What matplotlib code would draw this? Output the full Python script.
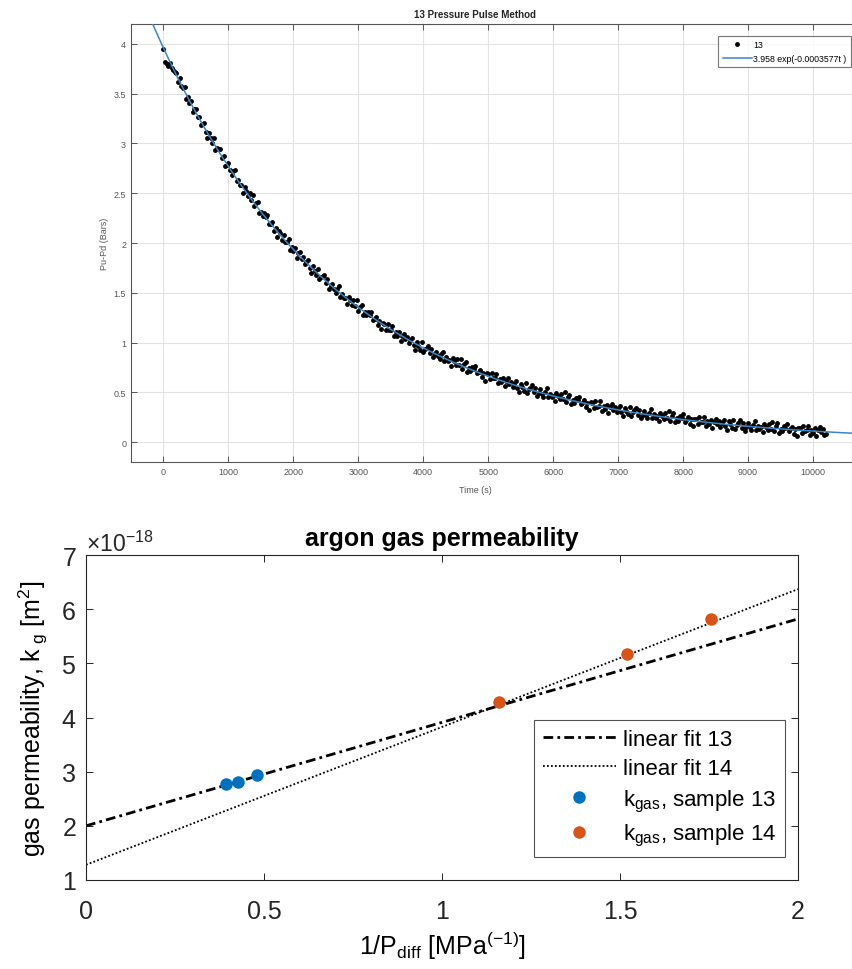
import numpy as np
import matplotlib
matplotlib.use("Agg")
import matplotlib.pyplot as plt
from matplotlib.ticker import ScalarFormatter

plt.rcParams["mathtext.fontset"] = "custom"
plt.rcParams["mathtext.rm"] = "Liberation Sans"
plt.rcParams["mathtext.it"] = "Liberation Sans"
plt.rcParams["mathtext.bf"] = "Liberation Sans:bold"
plt.rcParams["axes.unicode_minus"] = False

# ---------------- pressure pulse record, sample 13 ----------------
time_step_s = 25
pulse_dp_bar = [
    3.95, 3.82, 3.80, 3.78, 3.81, 3.76, 3.74, 3.72,
    3.71, 3.62, 3.66, 3.58, 3.56, 3.57, 3.45, 3.47,
    3.41, 3.43, 3.32, 3.35, 3.35, 3.27, 3.27, 3.19,
    3.20, 3.21, 3.12, 3.05, 3.11, 3.05, 3.00, 3.05,
    2.93, 2.95, 2.94, 2.94, 2.85, 2.87, 2.77, 2.78,
    2.80, 2.73, 2.68, 2.72, 2.73, 2.62, 2.63, 2.58,
    2.58, 2.50, 2.56, 2.52, 2.47, 2.50, 2.43, 2.48,
    2.37, 2.40, 2.41, 2.30, 2.31, 2.27, 2.30, 2.26,
    2.28, 2.19, 2.19, 2.21, 2.12, 2.15, 2.06, 2.12,
    2.10, 2.03, 2.08, 2.01, 2.01, 2.04, 1.93, 1.96,
    1.92, 1.95, 1.85, 1.90, 1.91, 1.84, 1.86, 1.79,
    1.81, 1.83, 1.75, 1.70, 1.77, 1.72, 1.68, 1.74,
    1.64, 1.66, 1.67, 1.68, 1.60, 1.64, 1.54, 1.57,
    1.59, 1.54, 1.50, 1.54, 1.57, 1.46, 1.49, 1.45,
    1.45, 1.39, 1.46, 1.43, 1.38, 1.43, 1.37, 1.43,
    1.32, 1.36, 1.38, 1.28, 1.31, 1.28, 1.31, 1.28,
    1.31, 1.23, 1.24, 1.26, 1.18, 1.22, 1.14, 1.20,
    1.19, 1.13, 1.19, 1.13, 1.13, 1.17, 1.07, 1.11,
    1.07, 1.11, 1.02, 1.07, 1.09, 1.04, 1.06, 1.00,
    1.03, 1.05, 0.98, 0.93, 1.01, 0.97, 0.93, 1.01,
    0.91, 0.94, 0.95, 0.97, 0.89, 0.94, 0.85, 0.88,
    0.91, 0.86, 0.83, 0.88, 0.91, 0.81, 0.85, 0.81,
    0.82, 0.76, 0.84, 0.81, 0.77, 0.83, 0.77, 0.83,
    0.73, 0.78, 0.80, 0.70, 0.74, 0.71, 0.75, 0.73,
    0.76, 0.69, 0.70, 0.72, 0.65, 0.69, 0.61, 0.69,
    0.68, 0.63, 0.69, 0.64, 0.64, 0.68, 0.59, 0.63,
    0.60, 0.64, 0.56, 0.61, 0.64, 0.58, 0.60, 0.55,
    0.58, 0.61, 0.54, 0.50, 0.58, 0.55, 0.51, 0.59,
    0.49, 0.53, 0.54, 0.57, 0.50, 0.54, 0.46, 0.49,
    0.53, 0.48, 0.45, 0.50, 0.54, 0.45, 0.48, 0.45,
    0.46, 0.41, 0.49, 0.46, 0.43, 0.48, 0.43, 0.50,
    0.40, 0.45, 0.47, 0.38, 0.42, 0.39, 0.44, 0.42,
    0.45, 0.38, 0.39, 0.42, 0.35, 0.39, 0.32, 0.40,
    0.39, 0.34, 0.41, 0.35, 0.36, 0.41, 0.31, 0.36,
    0.33, 0.37, 0.29, 0.35, 0.38, 0.32, 0.35, 0.30,
    0.33, 0.36, 0.30, 0.26, 0.34, 0.31, 0.28, 0.35,
    0.26, 0.30, 0.32, 0.34, 0.27, 0.32, 0.24, 0.27,
    0.31, 0.27, 0.24, 0.29, 0.33, 0.24, 0.28, 0.24,
    0.26, 0.21, 0.29, 0.26, 0.23, 0.29, 0.24, 0.31,
    0.21, 0.26, 0.29, 0.20, 0.24, 0.21, 0.26, 0.24,
    0.28, 0.20, 0.22, 0.25, 0.18, 0.23, 0.16, 0.23,
    0.23, 0.18, 0.25, 0.20, 0.20, 0.25, 0.16, 0.21,
    0.18, 0.22, 0.14, 0.20, 0.23, 0.18, 0.21, 0.15,
    0.19, 0.22, 0.16, 0.12, 0.21, 0.18, 0.14, 0.22,
    0.13, 0.17, 0.19, 0.22, 0.14, 0.19, 0.11, 0.15,
    0.19, 0.15, 0.12, 0.17, 0.21, 0.12, 0.16, 0.13,
    0.15, 0.10, 0.18, 0.15, 0.12, 0.18, 0.13, 0.20,
    0.11, 0.16, 0.19, 0.09, 0.13, 0.11, 0.16, 0.14,
    0.18, 0.11, 0.13, 0.15, 0.08, 0.13, 0.06, 0.14,
    0.14, 0.09, 0.16, 0.11, 0.12, 0.16, 0.07, 0.12,
    0.09, 0.14, 0.06, 0.12, 0.15, 0.10, 0.13, 0.07,
    0.08,
]
pulse_time_s = np.arange(len(pulse_dp_bar)) * time_step_s

# exponential fit reported in the legend
fit_amp = 3.958
fit_rate = 0.0003577
fit_label = "3.958 exp(-0.0003577t )"

# ---------------- argon permeability vs. inverse pressure ----------------
inv_p_13 = [0.393, 0.427, 0.480]
kgas_13 = [2.77e-18, 2.81e-18, 2.94e-18]
inv_p_14 = [1.160, 1.520, 1.755]
kgas_14 = [4.28e-18, 5.17e-18, 5.82e-18]
# linear fits (slope, intercept) in m^2 per MPa^-1
fit13 = (1.91e-18, 2.00e-18)
fit14 = (2.545e-18, 1.28e-18)

W, H = 852, 970
fig = plt.figure(figsize=(W / 100, H / 100), dpi=100)

narrow = ["Liberation Sans Narrow", "Liberation Sans", "DejaVu Sans"]
sans = ["Liberation Sans", "DejaVu Sans"]

# ---------- top panel ----------
x0, x1 = -500, 11000
left_px, right_px, top_px, bot_px = 131, 878, 25, 463
ax1 = fig.add_axes([left_px / W, 1 - bot_px / H,
                    (right_px - left_px) / W, (bot_px - top_px) / H])
ax1.plot(pulse_time_s, pulse_dp_bar, "o", color="black", markersize=3.5,
         markeredgewidth=0, label="13", zorder=3)
tt = np.linspace(x0, x1, 400)
ax1.plot(tt, fit_amp * np.exp(-fit_rate * tt), color="#3a86c6", lw=1.1,
         label=fit_label, zorder=4)
ax1.set_xlim(x0, x1)
ax1.set_ylim(-0.2, 4.2)
ax1.set_xticks(np.arange(0, 10001, 1000))
ax1.set_yticks(np.arange(0, 4.01, 0.5))
ax1.set_yticklabels(["0", "0.5", "1", "1.5", "2", "2.5", "3", "3.5", "4"])
ax1.grid(True, color="#e3e3e3", lw=0.8)
ax1.set_axisbelow(True)
ax1.tick_params(direction="in", top=True, right=True, length=4, width=0.7,
                colors="#555555", labelsize=6.5, labelcolor="#555555")
for lab in ax1.get_xticklabels() + ax1.get_yticklabels():
    lab.set_family(narrow)
for s in ax1.spines.values():
    s.set_color("#555555")
    s.set_linewidth(0.8)
title_x = (475 - left_px) / (right_px - left_px)
ax1.set_title("13 Pressure Pulse Method", fontsize=7, fontweight="bold",
              family=narrow, x=title_x, pad=5, color="#222222")
ax1.set_xlabel("Time (s)", fontsize=6.5, family=narrow, color="#555555",
               labelpad=4)
ax1.xaxis.set_label_coords(title_x, -0.052)
ax1.set_ylabel("Pu-Pd (Bars)", fontsize=6.5, family=narrow, color="#555555",
               labelpad=3)
leg1 = ax1.legend(loc="upper right", bbox_to_anchor=(851 / W, 1 - 37 / H),
                  bbox_transform=fig.transFigure,
                  prop={"family": narrow, "size": 6.3}, frameon=True,
                  fancybox=False, edgecolor="#555555", handlelength=3.3,
                  borderpad=0.5, labelspacing=0.5, handletextpad=0.2,
                  borderaxespad=0, markerscale=1.0)
leg1.get_frame().set_linewidth(0.8)

# ---------- bottom panel ----------
left2, right2, top2, bot2 = 86, 798, 556, 881
ax2 = fig.add_axes([left2 / W, 1 - bot2 / H,
                    (right2 - left2) / W, (bot2 - top2) / H])
xx = np.array([0.0, 2.0])
ax2.plot(xx, fit13[0] * xx + fit13[1], color="black", lw=2.0,
         linestyle=(0, (3.5, 1.5, 1, 1.5)), label="linear fit 13")
ax2.plot(xx, fit14[0] * xx + fit14[1], color="black", lw=1.3,
         linestyle=(0, (1, 1.2)), label="linear fit 14")
ax2.plot(inv_p_13, kgas_13, "o", color="#0072BD", markersize=9,
         markeredgewidth=0, label=r"k$_{\mathrm{gas}}$, sample 13")
ax2.plot(inv_p_14, kgas_14, "o", color="#D95319", markersize=9,
         markeredgewidth=0, label=r"k$_{\mathrm{gas}}$, sample 14")
ax2.set_xlim(0, 2)
ax2.set_ylim(1e-18, 7e-18)
ax2.set_xticks([0, 0.5, 1, 1.5, 2])
ax2.set_xticklabels(["0", "0.5", "1", "1.5", "2"])
ax2.set_yticks(np.arange(1, 8) * 1e-18)
fmt = ScalarFormatter(useMathText=True)
fmt.set_powerlimits((0, 0))
ax2.yaxis.set_major_formatter(fmt)
ax2.tick_params(direction="in", top=True, right=True, length=5, width=0.7,
                colors="#262626", labelsize=18)
ax2.tick_params(axis="x", pad=14)
ax2.tick_params(axis="y", pad=7)
for lab in ax2.get_xticklabels() + ax2.get_yticklabels():
    lab.set_family(sans)
ax2.yaxis.get_offset_text().set_fontsize(16.5)
ax2.yaxis.get_offset_text().set_family(sans)
for s in ax2.spines.values():
    s.set_color("#262626")
    s.set_linewidth(0.8)
ax2.set_title("argon gas permeability", fontsize=18, fontweight="bold",
              family=sans, pad=7)
ax2.set_xlabel(r"1/P$_{\mathrm{diff}}$ [MPa$^{\mathrm{(-1)}}$]", fontsize=18,
               family=sans, labelpad=4)
ax2.set_ylabel(r"gas permeability, k$_{\mathrm{\ g}}$ [m$^{\mathrm{2}}$]",
               fontsize=18, family=sans, labelpad=8)
leg2 = ax2.legend(loc="lower right", bbox_to_anchor=(785 / W, 1 - 858 / H),
                  bbox_transform=fig.transFigure,
                  prop={"family": sans, "size": 16}, frameon=True,
                  fancybox=False, edgecolor="#262626", handlelength=3.3,
                  borderpad=0.4, labelspacing=0.38, handletextpad=0.3,
                  borderaxespad=0)
leg2.get_frame().set_linewidth(0.8)

fig.savefig("out.png", dpi=100)
